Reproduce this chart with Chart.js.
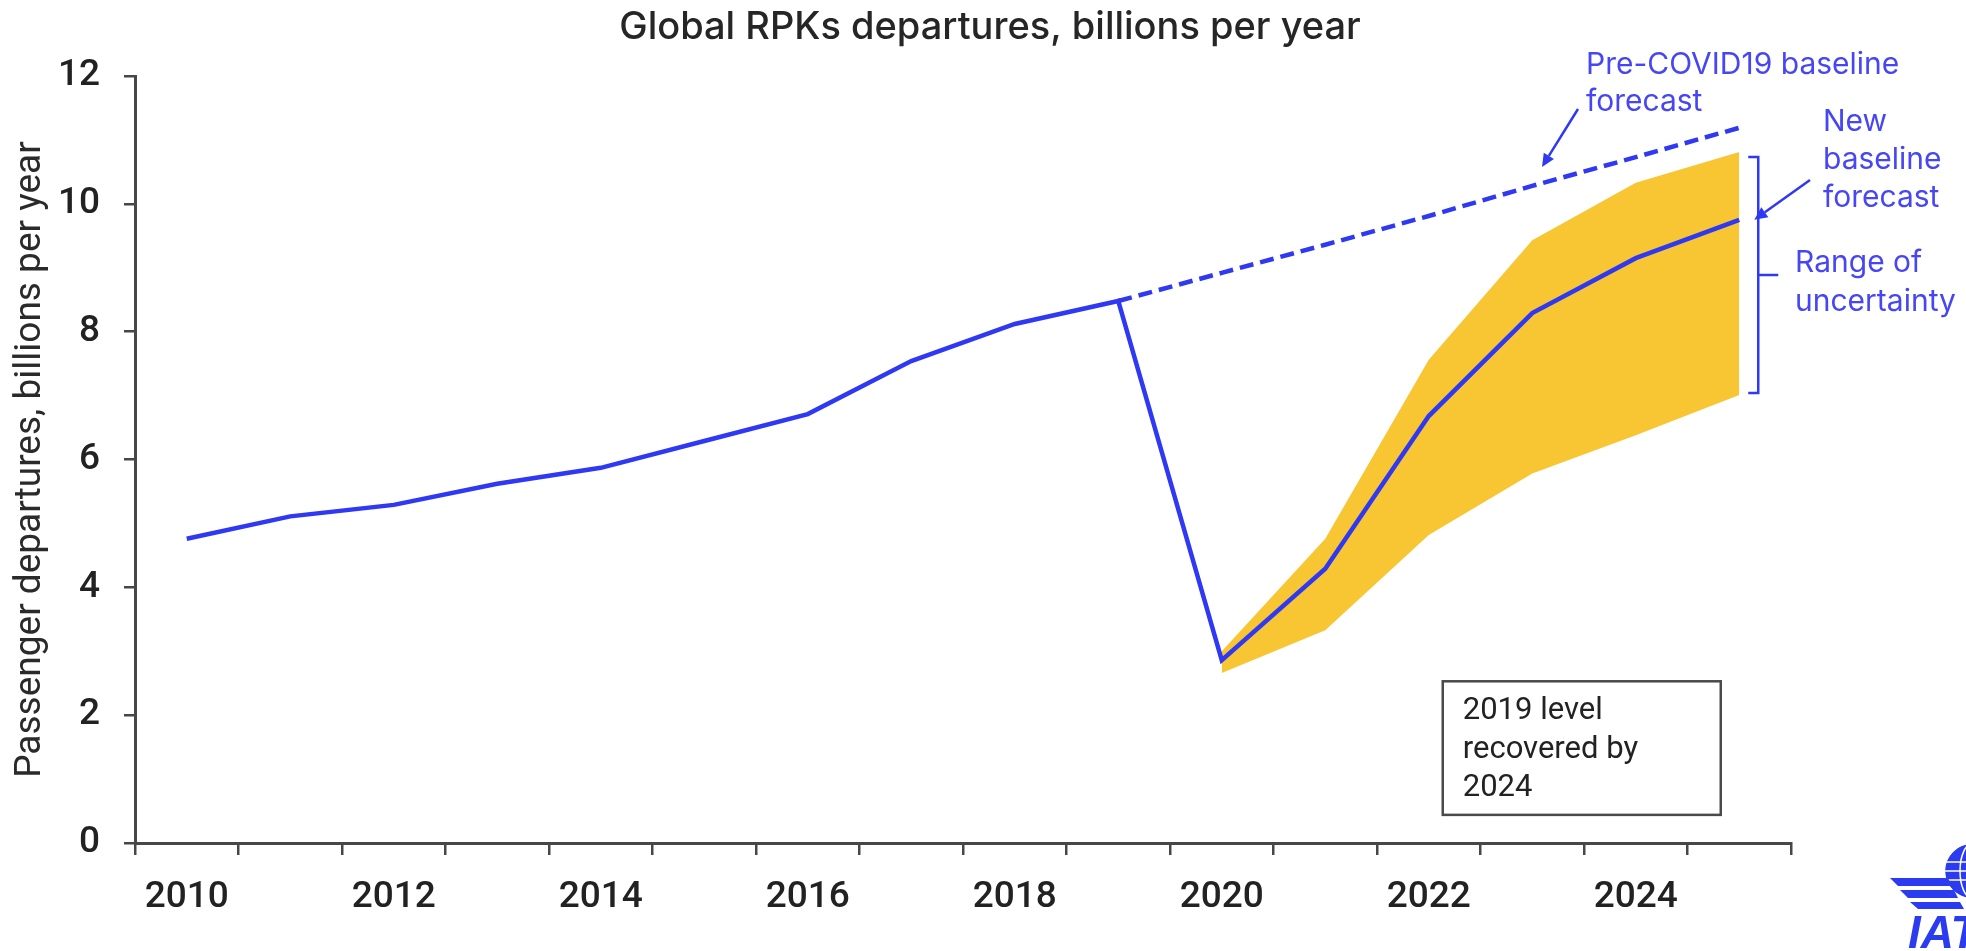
<!DOCTYPE html>
<html>
<head>
<meta charset="utf-8">
<script src="https://cdn.jsdelivr.net/npm/chart.js@4.4.1/dist/chart.umd.min.js"></script>
<style>
html,body{margin:0;padding:0;background:#fff;}
#wrap{width:1966px;height:951px;}
</style>
</head>
<body>
<div id="wrap"><canvas id="c" width="1966" height="951"></canvas></div>
<script>
// ---- data ----
const years = ['2010','2011','2012','2013','2014','2015','2016','2017','2018','2019','2020','2021','2022','2023','2024','2025'];
const rpks = [4.76, 5.11, 5.29, 5.62, 5.87, 6.29, 6.71, 7.54, 8.12, 8.48, 2.86, 4.29, 6.68, 8.29, 9.15, 9.75];
const preCovid = [null, null, null, null, null, null, null, null, null, 8.48, 8.92, 9.36, 9.81, 10.28, 10.73, 11.19];
const bandUpper = [null, null, null, null, null, null, null, null, null, null, 3.00, 4.76, 7.56, 9.43, 10.33, 10.81];
const bandLower = [null, null, null, null, null, null, null, null, null, null, 2.66, 3.33, 4.82, 5.78, 6.38, 7.01];
const yTicks = [0, 2, 4, 6, 8, 10, 12];

const title = 'Global RPKs departures, billions per year';
const yTitle = 'Passenger departures, billions per year';
const preCovidLabel = ['Pre-COVID19 baseline', 'forecast'];
const newBaseLabel = ['New', 'baseline', 'forecast'];
const rangeLabel = ['Range of', 'uncertainty'];
const boxLabel = ['2019 level', 'recovered by', '2024'];

const BLUE = '#2f38f3';
const TXTBLUE = '#4646f4';
const BAND = '#f8c633';
const AXIS = '#474747';

function arrow(ctx, x1, y1, x2, y2, color) {
  ctx.save();
  ctx.strokeStyle = color; ctx.fillStyle = color; ctx.lineWidth = 2.5;
  const a = Math.atan2(y2 - y1, x2 - x1);
  const hl = 13, hw = 6;
  const bx = x2 - hl * Math.cos(a), by = y2 - hl * Math.sin(a);
  ctx.beginPath(); ctx.moveTo(x1, y1); ctx.lineTo(bx, by); ctx.stroke();
  ctx.beginPath();
  ctx.moveTo(x2, y2);
  ctx.lineTo(bx + hw * Math.sin(a), by - hw * Math.cos(a));
  ctx.lineTo(bx - hw * Math.sin(a), by + hw * Math.cos(a));
  ctx.closePath(); ctx.fill();
  ctx.restore();
}

const annot = {
  id: 'annot',
  afterDraw(chart) {
    const ctx = chart.ctx, xs = chart.scales.x, ys = chart.scales.y;
    const last = years.length - 1;
    const xEnd = xs.getPixelForValue(last);
    ctx.save();
    // title
    ctx.fillStyle = '#262626';
    ctx.font = '500 38px Inter';
    ctx.textAlign = 'center'; ctx.textBaseline = 'middle';
    ctx.fillText(title, 990, 28);

    // pre-covid label + arrow
    ctx.fillStyle = TXTBLUE;
    ctx.font = '30px Inter';
    ctx.textAlign = 'left';
    ctx.fillText(preCovidLabel[0], 1586, 65);
    ctx.fillText(preCovidLabel[1], 1586, 102);
    arrow(ctx, 1578, 109, 1542, 167, BLUE);

    // new baseline label + arrow
    const yEnd = ys.getPixelForValue(rpks[last]);
    ctx.fillText(newBaseLabel[0], 1823, 122);
    ctx.fillText(newBaseLabel[1], 1823, 160);
    ctx.fillText(newBaseLabel[2], 1823, 198);
    arrow(ctx, 1810, 180, xEnd + 15, yEnd, BLUE);

    // range bracket
    const bx = xEnd + 19;
    const bt = ys.getPixelForValue(bandUpper[last]) + 5;
    const bb = ys.getPixelForValue(bandLower[last]) - 2;
    ctx.strokeStyle = BLUE; ctx.lineWidth = 2.5;
    ctx.beginPath();
    ctx.moveTo(bx - 10, bt); ctx.lineTo(bx, bt); ctx.lineTo(bx, bb); ctx.lineTo(bx - 10, bb);
    ctx.moveTo(bx, (bt + bb) / 2); ctx.lineTo(bx + 20, (bt + bb) / 2);
    ctx.stroke();
    ctx.fillText(rangeLabel[0], 1795, 263);
    ctx.fillText(rangeLabel[1], 1795, 302);

    // box
    const l = xs.getPixelForValue(12) + 14, r = xs.getPixelForValue(14) + 85;
    const t = ys.getPixelForValue(2.53), b = ys.getPixelForValue(0.44);
    ctx.strokeStyle = '#4a4a4a'; ctx.lineWidth = 2.5;
    ctx.strokeRect(l, t, r - l, b - t);
    ctx.fillStyle = '#222';
    ctx.font = '31px Roboto';
    ctx.fillText(boxLabel[0], l + 20, t + 30);
    ctx.fillText(boxLabel[1], l + 20, t + 69);
    ctx.fillText(boxLabel[2], l + 20, t + 107);

    // logo (partial, cut by the edge)
    ctx.fillStyle = '#2b3cf0';
    ctx.beginPath(); ctx.arc(1972, 871, 27, 0, Math.PI * 2); ctx.fill();
    ctx.strokeStyle = '#ffffff'; ctx.lineWidth = 1.5;
    ctx.beginPath(); ctx.ellipse(1972, 871, 12, 27, 0, 0, Math.PI * 2); ctx.stroke();
    ctx.beginPath(); ctx.moveTo(1945, 862); ctx.lineTo(1999, 862); ctx.moveTo(1945, 880); ctx.lineTo(1999, 880);
    ctx.moveTo(1945, 871); ctx.lineTo(1999, 871); ctx.stroke();
    ctx.lineWidth = 4;
    ctx.beginPath(); ctx.arc(1972, 871, 29, 0, Math.PI * 2); ctx.stroke();
    ctx.fillStyle = '#2b3cf0';
    const wing = [[1890, 878, 1948, 878, 1952, 886, 1898, 886], [1900, 890, 1954, 890, 1958, 898, 1908, 898], [1910, 902, 1960, 902, 1964, 909, 1918, 909]];
    wing.forEach(w => { ctx.beginPath(); ctx.moveTo(w[0], w[1]); ctx.lineTo(w[2], w[3]); ctx.lineTo(w[4], w[5]); ctx.lineTo(w[6], w[7]); ctx.closePath(); ctx.fill(); });
    ctx.font = 'italic bold 46px "Liberation Sans"';
    ctx.textBaseline = 'alphabetic';
    ctx.fillText('IATA', 1908, 948);
    ctx.restore();
  }
};

new Chart(document.getElementById('c'), {
  type: 'line',
  data: {
    labels: years,
    datasets: [
      { data: rpks, borderColor: BLUE, borderWidth: 4.5, pointRadius: 0, tension: 0, fill: false },
      { data: preCovid, borderColor: BLUE, borderWidth: 4.5, borderDash: [14, 7], pointRadius: 0, tension: 0, fill: false },
      { data: bandUpper, borderWidth: 0, borderColor: BAND, backgroundColor: BAND, pointRadius: 0, tension: 0, fill: '+1' },
      { data: bandLower, borderWidth: 0, borderColor: BAND, backgroundColor: BAND, pointRadius: 0, tension: 0, fill: false }
    ]
  },
  options: {
    responsive: false,
    animation: false,
    devicePixelRatio: 1,
    layout: { padding: { left: 0, right: 175, top: 76, bottom: 0 } },
    plugins: {
      legend: { display: false },
      tooltip: { enabled: false },
      title: { display: false },
      filler: { drawTime: 'beforeDatasetsDraw' }
    },
    scales: {
      x: {
        type: 'category',
        offset: true,
        grid: { offset: true, drawOnChartArea: false, drawTicks: true, tickLength: 12, color: AXIS, lineWidth: 2.5 },
        border: { display: true, color: AXIS, width: 3 },
        ticks: {
          autoSkip: false, maxRotation: 0, minRotation: 0, padding: 21,
          color: '#222', font: { family: 'Roboto', size: 37, weight: '500' },
          callback: function (v, i) { return i % 2 === 0 ? years[i] : ''; }
        },
        afterFit: function (s) { s.height = 951 - 843; }
      },
      y: {
        min: 0, max: 12,
        afterBuildTicks: function (s) { s.ticks = yTicks.map(v => ({ value: v })); },
        grid: { drawOnChartArea: false, drawTicks: true, tickLength: 11, color: AXIS, lineWidth: 2.5 },
        border: { display: true, color: AXIS, width: 3 },
        ticks: { padding: 24, color: '#222', font: { family: 'Roboto', size: 37, weight: '500' } },
        title: { display: true, text: yTitle, color: '#2a2a2a', font: { family: 'Roboto', size: 37 }, padding: { top: 9, bottom: 0 } },
        afterFit: function (s) { s.width = 135; }
      }
    }
  },
  plugins: [annot]
});
</script>
</body>
</html>
